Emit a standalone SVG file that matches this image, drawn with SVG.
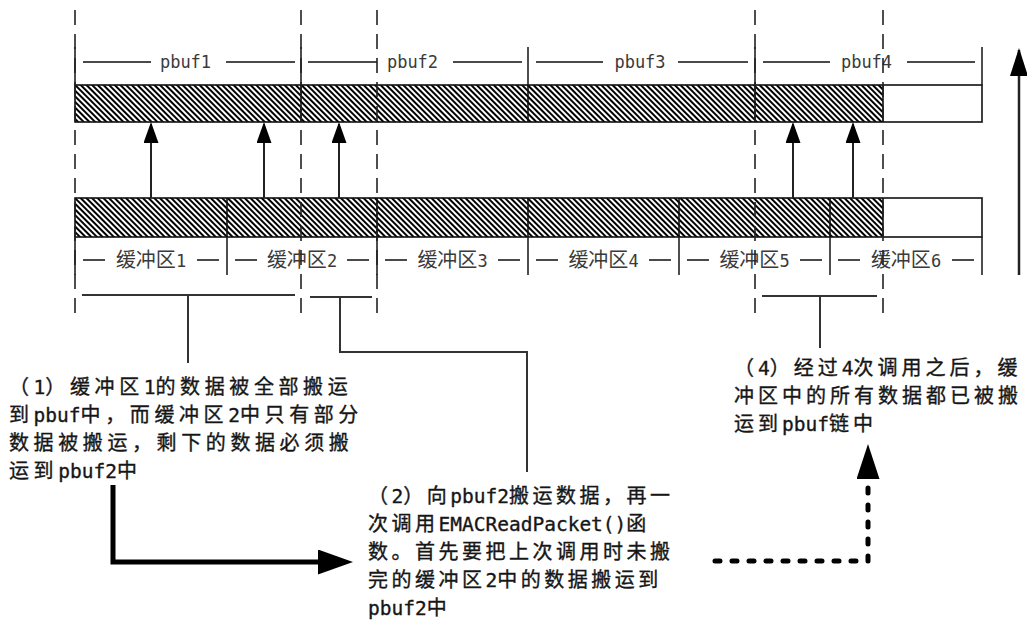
<svg xmlns="http://www.w3.org/2000/svg" width="1027" height="624" viewBox="0 0 1027 624">
<style>
.note{font-family:"Noto Sans CJK SC",sans-serif;font-size:20px;fill:#161616;stroke:#161616;stroke-width:0.35px}
.n1{letter-spacing:4.6px}
.n2{letter-spacing:3.5px}
.n3{letter-spacing:4px}
.lat{font-family:"DejaVu Sans Mono",monospace;font-size:19.5px;letter-spacing:0}
.lbl{font-family:"Noto Sans CJK SC",sans-serif;font-size:20px;fill:#3a3a3a;text-anchor:middle}
.dig{font-family:"DejaVu Sans Mono",monospace;font-size:17px}
.pl{font-family:"DejaVu Sans Mono",monospace;font-size:17px;fill:#3a3a3a;text-anchor:middle}
.ll{stroke:#4a4a4a;stroke-width:2;fill:none}
.tick{stroke:#222;stroke-width:1.6;fill:none}
.dash{stroke:#222;stroke-width:1.6;stroke-dasharray:15 9;fill:none}
.bar{stroke:#111;stroke-width:1.6;fill:none}
.br{stroke:#333;stroke-width:2;fill:none}
.up{stroke:#222;stroke-width:2;fill:none;marker-end:url(#ah)}
</style>
<defs>
<pattern id="hatch" patternUnits="userSpaceOnUse" width="4" height="8" patternTransform="rotate(-45)">
<rect width="4" height="8" fill="#fff"/><rect width="2" height="8" fill="#000"/>
</pattern>
<marker id="ah" markerUnits="userSpaceOnUse" markerWidth="21" markerHeight="15" refX="19" refY="7.5" orient="auto"><path d="M0,0 L21,7.5 L0,15 Z" fill="#000"/></marker>
<marker id="ahbig" markerUnits="userSpaceOnUse" markerWidth="28" markerHeight="18" refX="26" refY="9" orient="auto"><path d="M0,0 L28,9 L0,18 Z" fill="#000"/></marker>
<marker id="ahthick" markerUnits="userSpaceOnUse" markerWidth="35" markerHeight="25" refX="7" refY="12.5" orient="auto"><path d="M0,0 L35,12.5 L0,25 Z" fill="#000"/></marker>
<marker id="ahdot" markerUnits="userSpaceOnUse" markerWidth="35" markerHeight="23" refX="1" refY="11.5" orient="auto"><path d="M0,0 L35,11.5 L0,23 Z" fill="#000"/></marker>
</defs>
<rect width="1027" height="624" fill="#fff"/>

<g id="pbuf-chain">
<rect x="75" y="85" width="808" height="37" fill="url(#hatch)"/>
<rect x="883" y="85" width="99" height="37" fill="#fff"/>
<rect x="75" y="85" width="907" height="37" class="bar"/>
<path class="bar" d="M301,85 V122 M528,85 V122 M755,85 V122 M883,85 V122"/>
<path class="tick" d="M75,47 V85 M301,47 V85 M528,47 V85 M755,47 V85 M982,47 V85"/>
<path class="ll" d="M83,62 H151 M226,62 H295 M308,62 H377 M453,62 H522 M536,62 H603 M678,62 H748 M763,62 H830 M907,62 H975"/>
<text class="pl" x="185.5" y="68">pbuf1</text>
<text class="pl" x="412.5" y="68">pbuf2</text>
<text class="pl" x="640" y="68">pbuf3</text>
<text class="pl" x="866.5" y="68">pbuf4</text>
</g>

<g id="rx-buffers">
<rect x="75" y="198" width="808" height="39" fill="url(#hatch)"/>
<rect x="883" y="198" width="99" height="39" fill="#fff"/>
<rect x="75" y="198" width="907" height="39" class="bar"/>
<path class="bar" d="M227,198 V237 M377,198 V237 M528,198 V237 M679,198 V237 M830,198 V237 M883,198 V237"/>
<path class="tick" d="M75,237 V275 M227,237 V275 M377,237 V275 M528,237 V275 M679,237 V275 M830,237 V275 M982,237 V275"/>
<path class="ll" d="M83,260 H105 M197,260 H219 M235,260 H257 M347,260 H369 M385,260 H407 M498,260 H520 M536,260 H558 M649,260 H671 M687,260 H709 M800,260 H822 M838,260 H860 M952,260 H974"/>
<text class="lbl" x="151" y="267">缓冲区<tspan class="dig">1</tspan></text>
<text class="lbl" x="302" y="267">缓冲区<tspan class="dig">2</tspan></text>
<text class="lbl" x="452.5" y="267">缓冲区<tspan class="dig">3</tspan></text>
<text class="lbl" x="603.5" y="267">缓冲区<tspan class="dig">4</tspan></text>
<text class="lbl" x="754.5" y="267">缓冲区<tspan class="dig">5</tspan></text>
<text class="lbl" x="906" y="267">缓冲区<tspan class="dig">6</tspan></text>
</g>

<g id="guides">
<path class="dash" d="M75,10 V313 M301,10 V313 M377,10 V313 M755,10 V313 M883,10 V313"/>
</g>

<g id="note1">
<text class="note n1" x="9" y="394">（<tspan class="lat">1</tspan>）缓冲区<tspan class="lat">1</tspan>的数据被全部搬运</text>
<text class="note n1" x="9" y="422">到<tspan class="lat">pbuf</tspan>中，而缓冲区<tspan class="lat">2</tspan>中只有部分</text>
<text class="note n1" x="9" y="450">数据被搬运，剩下的数据必须搬</text>
<text class="note n1" x="9" y="478">运到<tspan class="lat">pbuf2</tspan>中</text>
</g>

<g id="note2">
<text class="note n2" x="368" y="503">（<tspan class="lat">2</tspan>）向<tspan class="lat">pbuf2</tspan>搬运数据，再一</text>
<text class="note n2" x="368" y="531">次调用<tspan class="lat">EMACReadPacket()</tspan>函</text>
<text class="note n2" x="368" y="559">数。首先要把上次调用时未搬</text>
<text class="note n2" x="368" y="587">完的缓冲区<tspan class="lat">2</tspan>中的数据搬运到</text>
<text class="note n2" x="368" y="615"><tspan class="lat">pbuf2</tspan>中</text>
</g>

<g id="note4">
<text class="note n3" x="734" y="375">（<tspan class="lat">4</tspan>）经过<tspan class="lat">4</tspan>次调用之后，缓</text>
<text class="note n3" x="734" y="403">冲区中的所有数据都已被搬</text>
<text class="note n3" x="734" y="431">运到<tspan class="lat">pbuf</tspan>链中</text>
</g>

<g id="connectors">
<path class="up" d="M151,198 V124"/>
<path class="up" d="M264,198 V124"/>
<path class="up" d="M339,198 V124"/>
<path class="up" d="M793,198 V124"/>
<path class="up" d="M853,198 V124"/>
<path d="M1019,275 V50" stroke="#222" stroke-width="2.5" fill="none" marker-end="url(#ahbig)"/>
<path class="br" d="M82,295 H295 M188,295 V363"/>
<path class="br" d="M310,297 H372 M340,297 V352 H527 V472"/>
<path class="br" d="M762,296 H877 M820,296 V348"/>
<path d="M113,485 V562 H325" stroke="#000" stroke-width="5" fill="none" stroke-linejoin="miter" marker-end="url(#ahthick)"/>
<path d="M715,561 H868 V478" stroke="#000" stroke-width="5" fill="none" stroke-linecap="round" stroke-dasharray="5 12" marker-end="url(#ahdot)"/>
</g>
</svg>
